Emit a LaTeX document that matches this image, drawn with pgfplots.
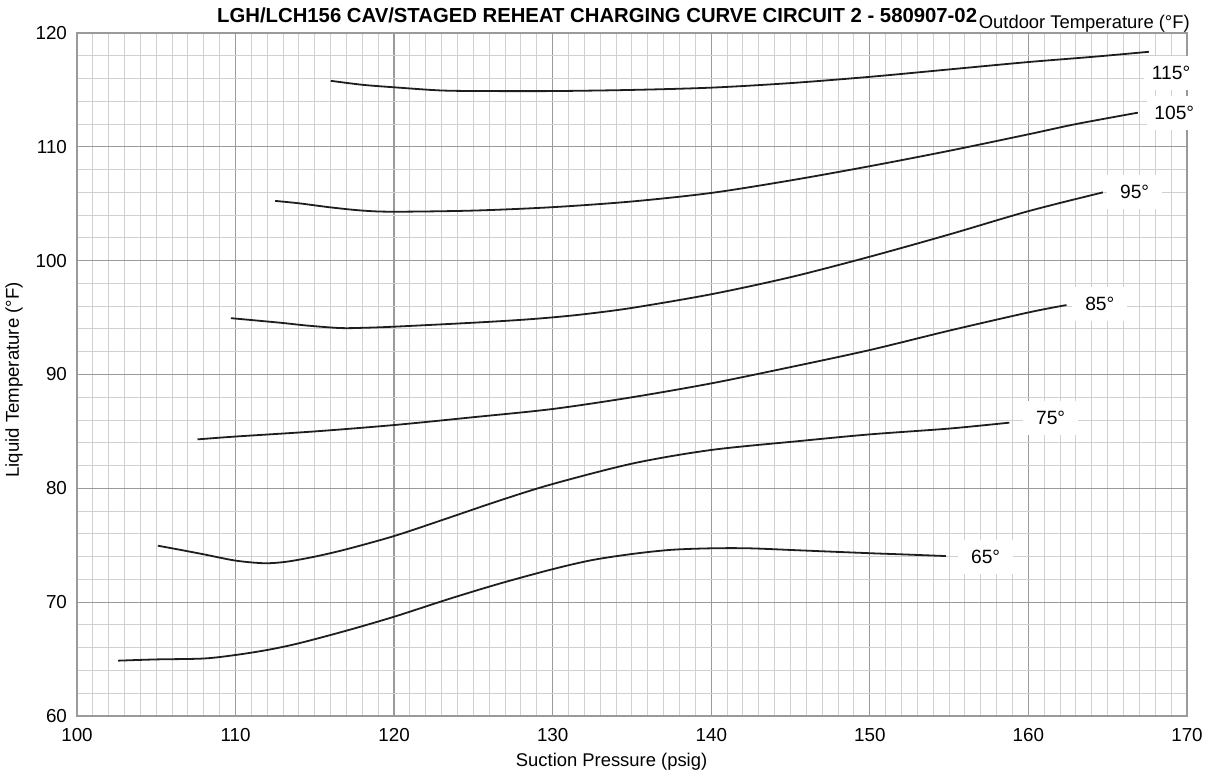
\documentclass[border=0pt]{standalone}
\usepackage{fontspec}
\setmainfont{Liberation Sans}
\usepackage{pgfplots}
\pgfplotsset{compat=1.18}
\definecolor{minorgrid}{HTML}{D0D0D0}
\definecolor{majorgrid}{HTML}{9A9A9A}
\definecolor{curvecol}{HTML}{1E1E1E}
\begin{document}
\begin{tikzpicture}
\useasboundingbox (-38.5pt,-32.5pt) rectangle (565pt,358pt);
\begin{axis}[
  at={(0,0)}, anchor=south west,
  scale only axis, width=555pt, height=341.5pt,
  xmin=100, xmax=170, ymin=60, ymax=120,
  xtick={100,110,...,170}, ytick={60,70,...,120},
  minor x tick num=9, minor y tick num=4,
  grid=both,
  major grid style={majorgrid, line width=0.65pt},
  minor grid style={minorgrid, line width=0.5pt},
  axis line style={majorgrid, line width=0.7pt},
  major tick length=0pt, minor tick length=0pt,
  tick label style={font=\fontsize{9.4}{11}\selectfont},
  /pgf/number format/assume math mode=true,
  /pgf/number format/1000 sep={},
  xticklabel style={yshift=-2.5pt},
  yticklabel style={xshift=-1.5pt},
  clip=false,
  xlabel={Suction Pressure (psig)},
  ylabel={Liquid Temperature (°F)},
  every axis x label/.style={at={(rel axis cs:0.4816,-0.0673)}, anchor=center, font=\fontsize{9.2}{11}\selectfont},
  every axis y label/.style={at={(rel axis cs:-0.05676,0.492)}, rotate=90, anchor=center, font=\fontsize{9.3}{11}\selectfont},
]
% 115
\addplot[curvecol, line width=0.9pt, smooth] coordinates {
(116.0,115.8) (118,115.45) (120,115.23) (123,114.95) (126,114.9) (130,114.9) (135,115.0) (140,115.2) (145,115.6) (150,116.15) (155,116.8) (160,117.45) (164,117.9) (167.6,118.35)};
% 105
\addplot[curvecol, line width=0.9pt, smooth] coordinates {
(112.5,105.25) (114,105.04) (116,104.68) (118,104.4) (120,104.3) (125,104.4) (130,104.7) (135,105.2) (140,105.95) (145,107.05) (150,108.3) (155,109.65) (160,111.1) (163,112.0) (166.9,113.0)};
% 95
\addplot[curvecol, line width=0.9pt, smooth] coordinates {
(109.7,94.95) (112.8,94.55) (114.5,94.3) (116.6,94.08) (118,94.1) (120,94.2) (125,94.55) (128,94.8) (130,95.02) (132,95.3) (135,95.85) (140,97.05) (145,98.55) (150,100.35) (155,102.3) (160,104.35) (164.7,106.0)};
% 85
\addplot[curvecol, line width=0.9pt, smooth] coordinates {
(107.6,84.3) (110,84.55) (115,85.0) (120,85.56) (125,86.25) (130,86.97) (135,88.0) (140,89.22) (145,90.65) (150,92.15) (155,93.85) (160,95.45) (162.4,96.1)};
% 75
\addplot[curvecol, line width=0.9pt, smooth] coordinates {
(105.1,74.96) (106.5,74.6) (108,74.2) (110,73.65) (111.8,73.42) (113.2,73.55) (115,74.0) (117,74.65) (120,75.81) (123,77.2) (126.7,78.95) (130,80.38) (135.1,82.2) (140,83.37) (145.6,84.16) (150,84.74) (155,85.25) (158.8,85.77)};
% 65
\addplot[curvecol, line width=0.9pt, smooth] coordinates {
(102.6,64.86) (105,64.97) (108,65.05) (110,65.36) (112,65.8) (114,66.39) (117,67.5) (120,68.72) (123.5,70.3) (126.7,71.65) (130,72.9) (132.5,73.7) (135.1,74.25) (137.5,74.6) (140,74.73) (142.4,74.73) (145.6,74.55) (150,74.3) (152,74.2) (154.8,74.05)};

\tikzset{clabel/.style={fill=white, inner sep=0pt, minimum width=27.5pt, minimum height=17pt, font=\fontsize{9.6}{11}\selectfont}}
\node[clabel] at (axis cs:169.0,116.5) {115°};
\node[clabel] at (axis cs:169.2,112.97) {105°};
\node[clabel] at (axis cs:166.7,106.06) {95°};
\node[clabel] at (axis cs:164.5,96.2) {85°};
\node[clabel] at (axis cs:161.4,86.2) {75°};
\node[clabel] at (axis cs:157.3,73.97) {65°};

\node[anchor=base east, inner sep=0pt, yshift=5.2pt, font=\bfseries\fontsize{10.15}{12}\selectfont] at (axis cs:156.79,120) {LGH/LCH156 CAV/STAGED REHEAT CHARGING CURVE CIRCUIT 2 - 580907-02};
\node[anchor=base west, inner sep=0pt, yshift=2.5pt, font=\fontsize{9.2}{11}\selectfont] at (axis cs:156.85,120) {Outdoor Temperature (°F)};
\end{axis}
\end{tikzpicture}
\end{document}
